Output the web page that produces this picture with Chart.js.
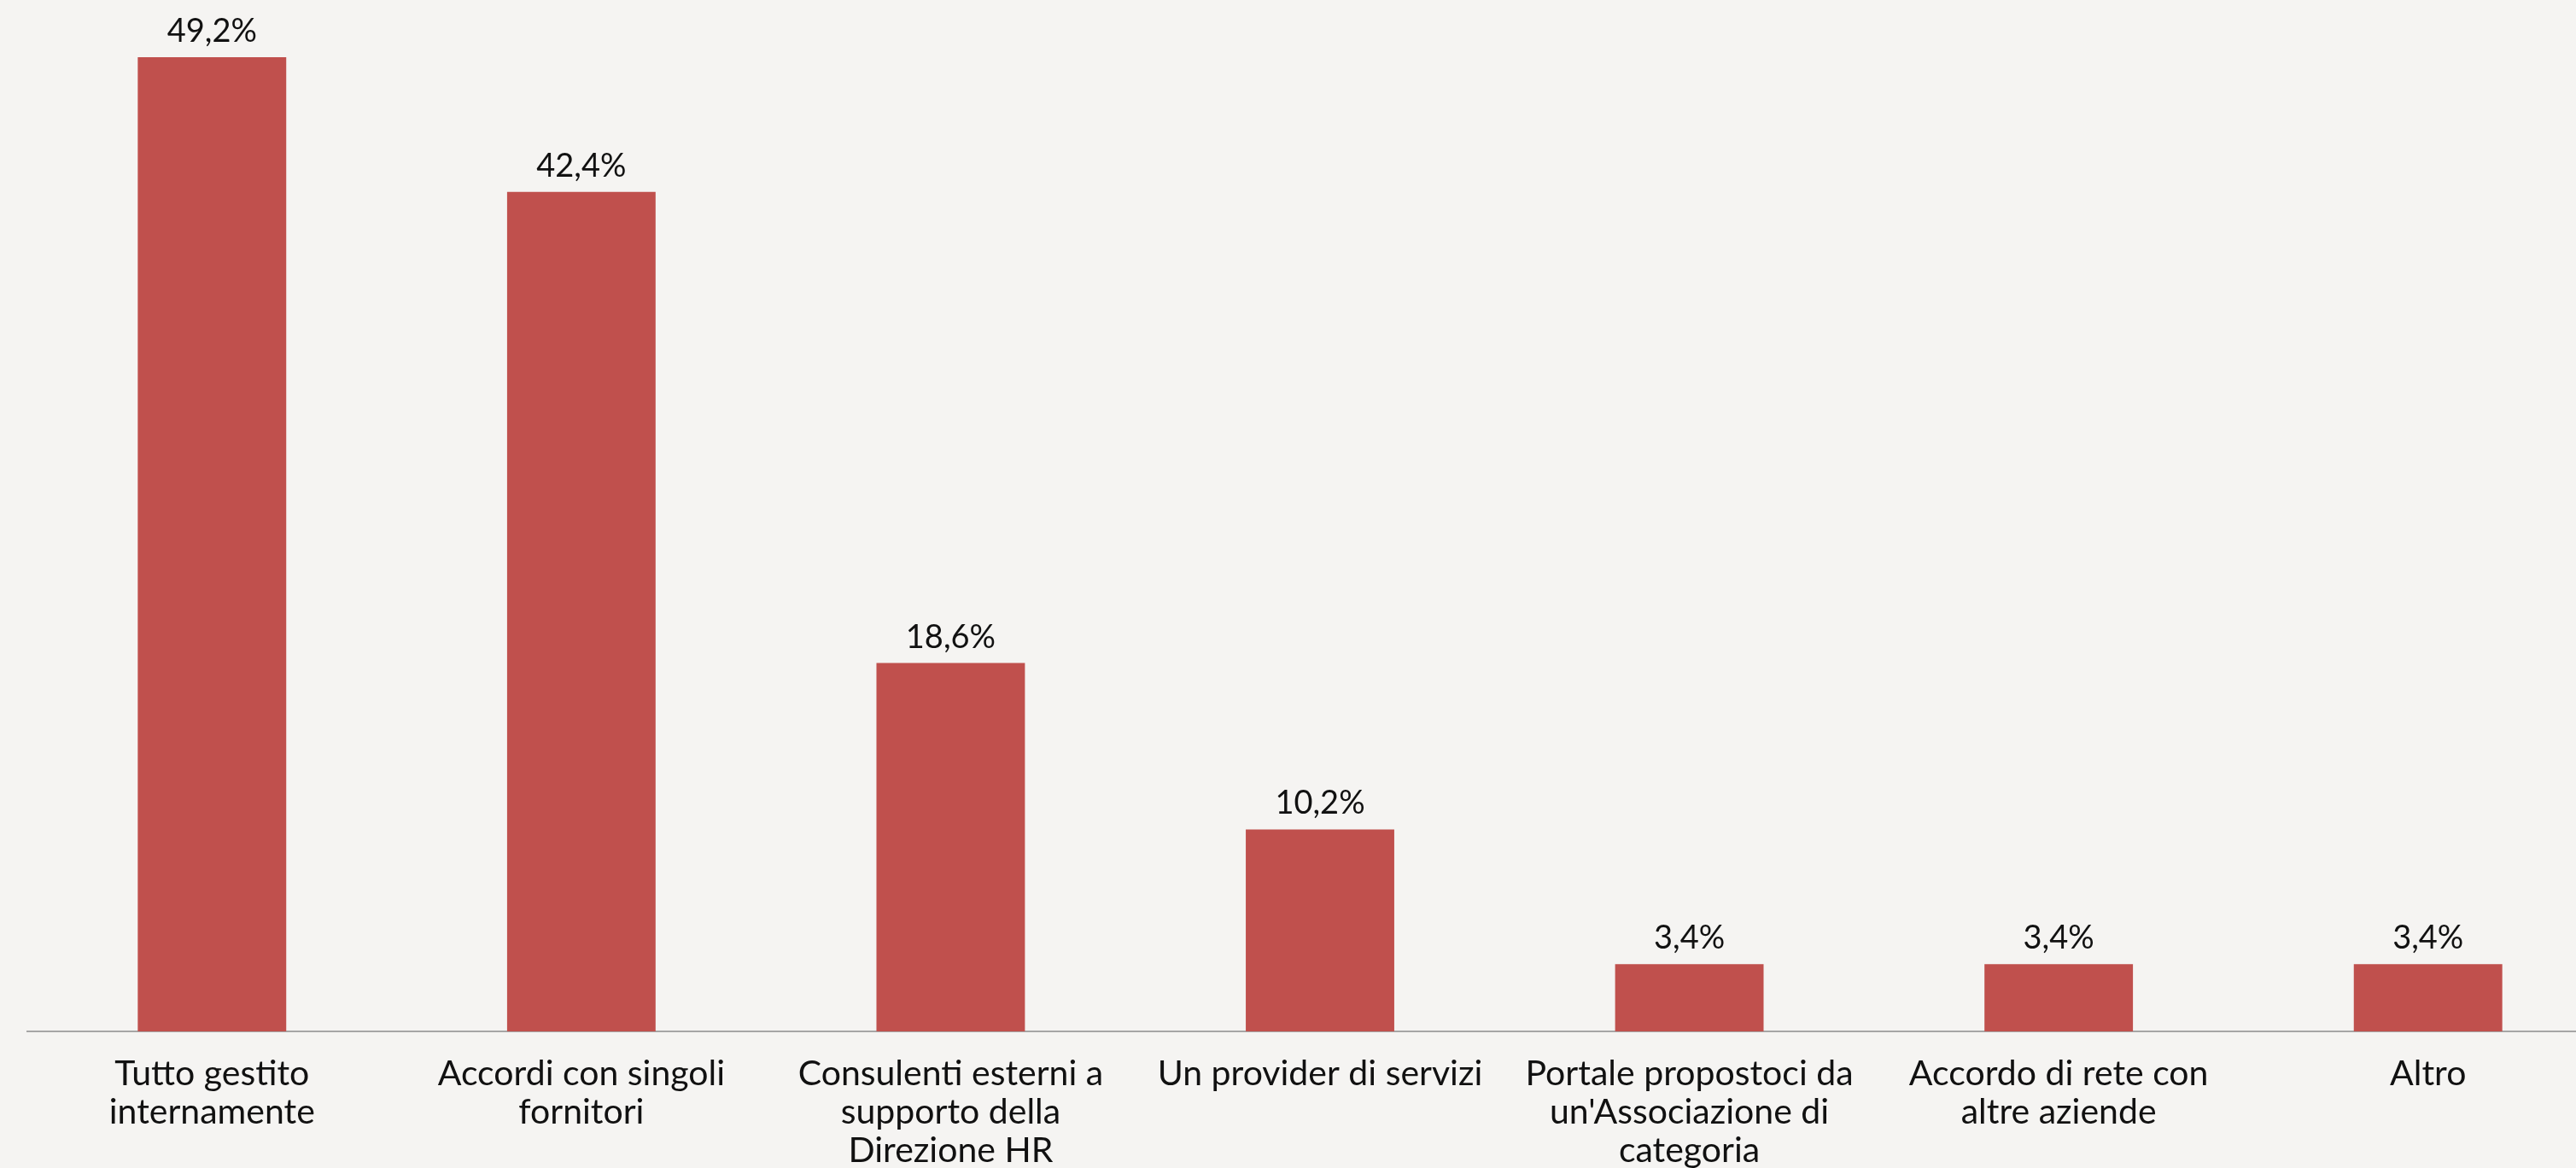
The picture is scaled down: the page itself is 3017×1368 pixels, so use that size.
<!DOCTYPE html>
<html>
<head>
<meta charset="utf-8">
<script src="https://cdn.jsdelivr.net/npm/chart.js@4/dist/chart.umd.min.js"></script>
<style>
  html, body { margin: 0; padding: 0; background: #f5f4f2; overflow: hidden; }
  #wrap { width: 3060px; height: 1368px; position: relative; }
</style>
</head>
<body>
<div id="wrap"><canvas id="barChart"></canvas></div>
<script>
// Categorie (etichette su più righe)
const categorie = [
  ['Tutto gestito', 'internamente'],
  ['Accordi con singoli', 'fornitori'],
  ['Consulenti esterni a', 'supporto della', 'Direzione HR'],
  ['Un provider di servizi'],
  ['Portale propostoci da', "un'Associazione di", 'categoria'],
  ['Accordo di rete con', 'altre aziende'],
  ['Altro']
];
// Percentuali
const valori = [49.2, 42.4, 18.6, 10.2, 3.4, 3.4, 3.4];

const FONT = 'Lato, "Open Sans", sans-serif';

// Etichette dei valori sopra le barre
const etichetteValori = {
  id: 'etichetteValori',
  afterDatasetsDraw(chart) {
    const ctx = chart.ctx;
    const meta = chart.getDatasetMeta(0);
    ctx.save();
    ctx.fillStyle = '#111';
    ctx.font = '38px ' + FONT;
    ctx.textAlign = 'center';
    ctx.textBaseline = 'alphabetic';
    meta.data.forEach((bar, i) => {
      const testo = valori[i].toFixed(1).replace('.', ',') + '%';
      ctx.fillText(testo, bar.x, bar.y - 18);
    });
    ctx.restore();
  }
};

const ctx = document.getElementById('barChart').getContext('2d');
const grafico = new Chart(ctx, {
  type: 'bar',
  data: {
    labels: categorie,
    datasets: [{
      data: valori,
      backgroundColor: '#c0504d',
      borderWidth: 0,
      barPercentage: 0.402,
      categoryPercentage: 1.0
    }]
  },
  options: {
    responsive: true,
    maintainAspectRatio: false,
    animation: false,
    layout: { padding: { top: 2, left: 32, right: 0, bottom: 0 } },
    plugins: {
      legend: { display: false },
      tooltip: { enabled: false }
    },
    scales: {
      x: {
        grid: { display: false, drawTicks: false },
        border: { display: true, color: '#a6a6a6', width: 2 },
        ticks: {
          color: '#111',
          font: { family: FONT, size: 41, lineHeight: 1.1 },
          padding: 27,
          maxRotation: 0,
          autoSkip: false
        },
        afterFit(scale) { scale.height = 160; }
      },
      y: {
        display: false,
        min: 0,
        max: 52
      }
    }
  },
  plugins: [etichetteValori]
});
</script>
</body>
</html>
